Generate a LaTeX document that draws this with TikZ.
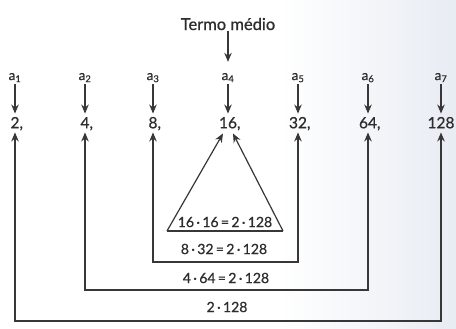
\documentclass[tikz,border=0pt]{standalone}
\usepackage{fontspec}
\setmainfont{Lato}[FakeBold=0.7]
\usetikzlibrary{arrows.meta}
\definecolor{bgr}{RGB}{232,236,243}
\definecolor{ink}{RGB}{45,45,45}
\definecolor{ln}{RGB}{55,55,55}
\tikzset{
  lbl/.style={font=\fontsize{13.5}{13.5}\selectfont, text=ink, inner sep=0pt, text height=7pt, text depth=1pt, inner ysep=3pt},
  num/.style={font=\fontsize{15.5}{15.5}\selectfont, text=ink, inner xsep=0pt, inner ysep=4pt, text height=10.5pt, text depth=0pt},
  eq/.style={font=\fontsize{14}{14}\selectfont, text=ink, inner sep=0pt},
  arr/.style={draw=ln, line width=1.2pt, -{Stealth[length=9pt,width=7.5pt]}},
  arrb/.style={draw=ln, line width=1.2pt, {Stealth[length=9pt,width=7.5pt]}-{Stealth[length=9pt,width=7.5pt]}},
  lnx/.style={draw=ln, line width=1.2pt},
}
\begin{document}
\begin{tikzpicture}[x=1pt,y=-1pt]
\useasboundingbox (0,0) rectangle (456,329);
\fill[white] (0,0) rectangle (280,329);
\shade[left color=white, right color=bgr] (279.5,0) rectangle (456,329);
% top
\node[font=\fontsize{16.5}{16.5}\selectfont, text=ink, inner sep=1pt] (t) at (228,24) {Termo médio};
% labels
\foreach \i/\x in {1/15,2/85,3/153,4/228,5/298,6/368,7/441}{
  \node[lbl] (a\i) at (\x,77) {a\textsubscript{\i}};
}
\node[num] (n1) at (15,123) {2\rlap{,}};
\node[num] (n2) at (85,123) {4\rlap{,}};
\node[num] (n3) at (153,123) {8\rlap{,}};
\node[num] (n4) at (228,123) {16\rlap{,}};
\node[num] (n5) at (298,123) {32\rlap{,}};
\node[num] (n6) at (368,123) {64\rlap{,}};
\node[num] (n7) at (441,123) {128};
\draw[arr, shorten >=8pt] (t.south) -- (a4.north);
\foreach \i in {1,...,7}{
  \draw[arr] (a\i.south) -- (n\i.north);
}
% rectangles
\coordinate (r3) at (228,262);
\coordinate (r2) at (228,290);
\coordinate (r1) at (228,321);
\draw[arrb] (n3.south) |- (r3) -| (n5.south);
\draw[arrb] (n2.south) |- (r2) -| (n6.south);
\draw[arrb] (n1.south) |- (r1) -| (n7.south);
% triangle
\coordinate (bl) at (167,231);
\coordinate (br) at (283,231);
\draw[lnx] (bl) -- (br);
\draw[arr] (bl) -- ([xshift=-5pt,yshift=-1pt]n4.south);
\draw[arr] (br) -- ([xshift=5pt,yshift=-1pt]n4.south);
% equations
\node[eq] (e1) at (225,222) {16\,·\,16\,=\,2\,·\,128};
\node[eq] (e2) at (224,249) {8\,·\,32\,=\,2\,·\,128};
\node[eq] (e3) at (226,278) {4\,·\,64\,=\,2\,·\,128};
\node[eq] (e4) at (227,307) {2\,·\,128};
\end{tikzpicture}
\end{document}
